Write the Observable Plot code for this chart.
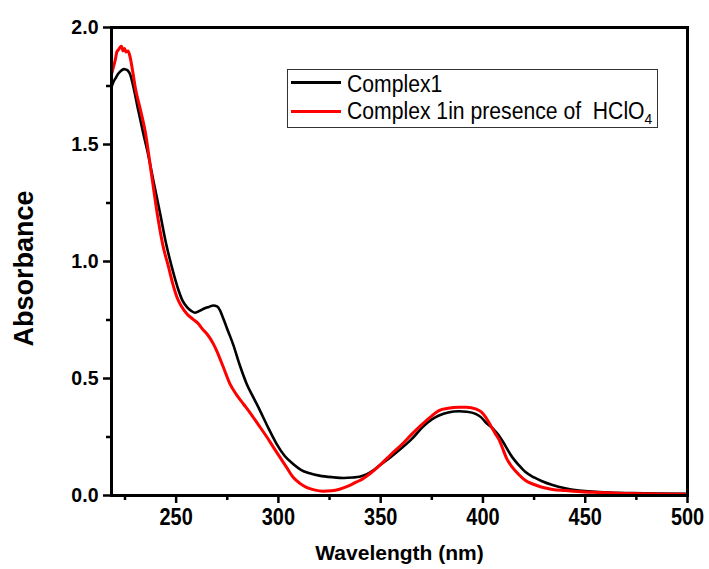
<!DOCTYPE html>
<html>
<head>
<meta charset="utf-8">
<script src="https://cdn.jsdelivr.net/npm/d3@7"></script>
<script src="https://cdn.jsdelivr.net/npm/@observablehq/plot@0.6"></script>
<style>
  html, body { margin: 0; padding: 0; background: #fff; }
  #wrap { position: relative; width: 709px; height: 569px; font-family: "Liberation Sans", Arial, sans-serif; }
  #legend { position: absolute; left: 287px; top: 69px; width: 371px; height: 59px; box-sizing: border-box; border: 1px solid #333; background: #fff; }
  .sw { position: absolute; left: 3px; width: 50px; height: 3px; }
  .lt { position: absolute; left: 59px; font-size: 23px; line-height: 23px; white-space: pre; transform: scaleX(0.92); transform-origin: left center; color: #000; }
  .lt sub { font-size: 15px; vertical-align: -5px; line-height: 0; }
</style>
</head>
<body>
<div id="wrap">
  <div id="chart"></div>
  <div id="legend">
    <div class="sw" style="top:11px;background:#000;"></div>
    <div class="lt" id="lab1" style="top:3px;"></div>
    <div class="sw" style="top:40px;background:#ff0000;"></div>
    <div class="lt" id="lab2" style="top:30px;"></div>
  </div>
</div>
<script>
// ---- data ----
const seriesNames = ["Complex1", "Complex 1in presence of  HClO"];
const seriesSub = ["", "4"];

const blackWavelength = [218.4,219.5,220.5,221.5,222.5,223.5,224.5,225.5,226.5,227.5,229,231.5,234,236,239,242.3,245,247.9,250,251.2,253,255.3,257.5,259.3,261.7,264,266,268.2,270,271.5,273.1,275.5,277.9,281,284.5,288,291,295,299.1,303,307.2,311,315.3,320,326.6,332,336.4,339.6,343,346,349.4,355,360.7,365,370.5,375,378.5,383,388.3,392,396.4,399,401.3,405,407.8,409.4,414.3,417.5,420.8,425,428.9,434,440.2,446,453.2,462,472.7,485,500];
const blackAbs = [1.745,1.77,1.785,1.80,1.81,1.818,1.822,1.82,1.815,1.80,1.75,1.645,1.545,1.47,1.34,1.20,1.08,0.976,0.91,0.876,0.835,0.805,0.788,0.781,0.79,0.80,0.806,0.812,0.808,0.79,0.755,0.70,0.645,0.56,0.477,0.415,0.363,0.29,0.221,0.17,0.135,0.11,0.095,0.085,0.078,0.075,0.077,0.08,0.09,0.105,0.128,0.165,0.206,0.24,0.292,0.325,0.342,0.355,0.36,0.358,0.349,0.335,0.313,0.285,0.256,0.235,0.164,0.13,0.10,0.077,0.061,0.045,0.031,0.022,0.017,0.013,0.010,0.008,0.007];

const redWavelength = [218.4,219.3,220.2,221,221.8,222.6,223.3,224,224.8,225.5,226.5,227.5,229,230,232.5,234.8,238,241.3,243.5,246.3,248.5,250.4,252.5,255.3,258,260.9,263,265,268.2,270,273,276.3,280,283,286,290,294.2,297.5,300.7,304,307.2,310.5,313.7,317.5,321.8,326,329.9,334,338,341,345,349.4,355,360.7,365,370.5,375,378.5,383,388.3,392,396.4,399,401.3,404,406,407.8,409.4,411.5,414.3,417.5,420.8,425,428.9,434,440.2,448,456.5,470,485,500];
const redAbs = [1.80,1.83,1.86,1.895,1.905,1.916,1.92,1.90,1.91,1.895,1.90,1.873,1.80,1.745,1.65,1.56,1.37,1.175,1.07,0.976,0.90,0.847,0.81,0.776,0.755,0.734,0.71,0.691,0.648,0.615,0.55,0.477,0.425,0.39,0.355,0.305,0.252,0.207,0.164,0.12,0.078,0.052,0.035,0.024,0.018,0.02,0.027,0.04,0.057,0.07,0.095,0.128,0.175,0.221,0.26,0.306,0.34,0.363,0.373,0.377,0.377,0.37,0.358,0.335,0.295,0.265,0.24,0.206,0.16,0.121,0.09,0.064,0.047,0.035,0.026,0.021,0.016,0.013,0.009,0.006,0.005];

const xMajorTicks = [250, 300, 350, 400, 450, 500];
const xMinorTicks = [225, 275, 325, 375, 425, 475];
const yMajorTicks = [0, 0.5, 1.0, 1.5, 2.0];
const yMinorTicks = [0.25, 0.75, 1.25, 1.75];
const xTitle = "Wavelength (nm)";
const yTitle = "Absorbance";

// ---- build ----
const black = blackWavelength.map((w, i) => ({w, a: blackAbs[i]}));
const red = redWavelength.map((w, i) => ({w, a: redAbs[i]}));

const chart = Plot.plot({
  width: 709,
  height: 569,
  marginLeft: 111,
  marginRight: 22,
  marginTop: 27,
  marginBottom: 74,
  style: {fontFamily: "'Liberation Sans', Arial, sans-serif", color: "#000", background: "#fff", overflow: "visible"},
  x: {domain: [218.4, 500]},
  y: {domain: [0, 2]},
  marks: [
    Plot.line(black, {x: "w", y: "a", stroke: "#000", strokeWidth: 2.6, curve: "monotone-x"}),
    Plot.line(red, {x: "w", y: "a", stroke: "#ff0000", strokeWidth: 3, curve: "monotone-x"}),
    Plot.axisX(xMajorTicks, {tickSize: 8, tickPadding: 4, strokeWidth: 2.5, fontSize: 24, fontWeight: "bold",
      label: xTitle, labelAnchor: "center", labelOffset: 64, labelArrow: "none"}),
    Plot.axisX(xMinorTicks, {tickSize: 5, strokeWidth: 2.5, tickFormat: () => "", label: null}),
    Plot.axisY(yMajorTicks, {tickSize: 8, tickPadding: 5, strokeWidth: 2.5, fontSize: 21, fontWeight: "bold",
      tickFormat: d => d.toFixed(1), label: yTitle, labelAnchor: "center", labelOffset: 98, labelArrow: "none"}),
    Plot.axisY(yMinorTicks, {tickSize: 5, strokeWidth: 2.5, tickFormat: () => "", label: null}),
    Plot.frame({stroke: "#000", strokeWidth: 3})
  ]
});
document.getElementById("chart").appendChild(chart);

// ---- text styling (narrow glyphs as in the reference) ----
function squeeze(sel, s, extra = "") {
  chart.querySelectorAll(sel).forEach(el => {
    const t = el.getAttribute("transform") || "";
    el.setAttribute("transform", `${t}${extra} scale(${s},1)`);
  });
}
function restyle(sel, size, weight) {
  chart.querySelectorAll(sel).forEach(g => {
    g.setAttribute("font-size", size); g.setAttribute("font-weight", weight);
    g.querySelectorAll("text").forEach(t => { t.setAttribute("font-size", size); t.setAttribute("font-weight", weight); });
  });
}
restyle('[aria-label="x-axis label"]', 21, "bold");
restyle('[aria-label="y-axis label"]', 27, "bold");
squeeze('[aria-label="x-axis tick label"] text', 0.83);
squeeze('[aria-label="y-axis tick label"] text', 0.93);
squeeze('[aria-label="y-axis label"] text', 1, " translate(-7,0)");

document.getElementById("lab1").textContent = seriesNames[0];
const l2 = document.getElementById("lab2");
l2.textContent = seriesNames[1];
const sub = document.createElement("sub"); sub.textContent = seriesSub[1]; l2.appendChild(sub);
</script>
</body>
</html>
